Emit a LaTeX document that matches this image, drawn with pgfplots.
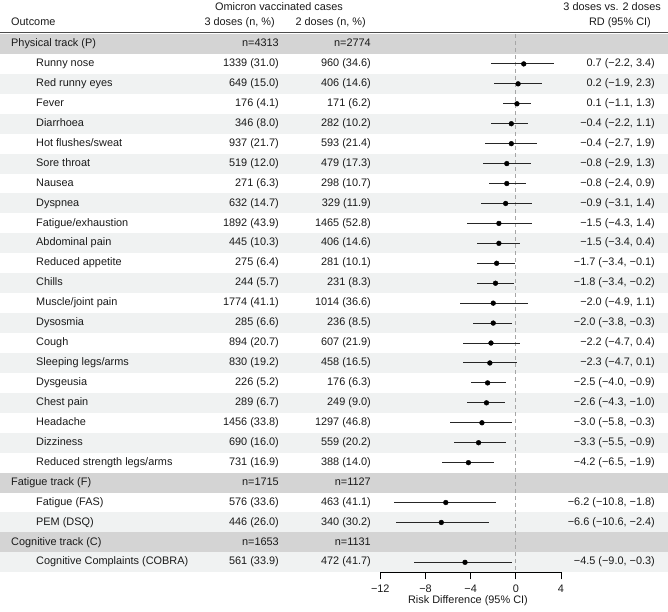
\documentclass[border=0pt]{standalone}
\usepackage{fontspec}
\setmainfont{Liberation Sans}
\usepackage{pgfplots}
\usepackage{pgfplotstable}
\pgfplotsset{compat=1.18}
\definecolor{grp}{HTML}{D4D4D4}
\definecolor{lite}{HTML}{F0F2F2}
\definecolor{txt}{HTML}{1A1A1A}

% row, rd, lo, hi
\pgfplotstableread{
row rd lo hi
1 0.7 -2.2 3.4
2 0.2 -1.9 2.3
3 0.1 -1.1 1.3
4 -0.4 -2.2 1.1
5 -0.4 -2.7 1.9
6 -0.8 -2.9 1.3
7 -0.8 -2.4 0.9
8 -0.9 -3.1 1.4
9 -1.5 -4.3 1.4
10 -1.5 -3.4 0.4
11 -1.7 -3.4 -0.1
12 -1.8 -3.4 -0.2
13 -2.0 -4.9 1.1
14 -2.0 -3.8 -0.3
15 -2.2 -4.7 0.4
16 -2.3 -4.7 0.1
17 -2.5 -4.0 -0.9
18 -2.6 -4.3 -1.0
19 -3.0 -5.8 -0.3
20 -3.3 -5.5 -0.9
21 -4.2 -6.5 -1.9
23 -6.2 -10.8 -1.8
24 -6.6 -10.6 -2.4
26 -4.5 -9.0 -0.3
}\rdtable

\newcommand\stripe[2]{\fill[#2] (0pt,{577pt-#1*19.937pt}) rectangle (668pt,{577pt-(#1+1)*19.937pt});}
\newcommand\grouprow[4]{%
  \node[anchor=mid west] at (11pt,{577pt-(#1+0.5)*19.937pt}) {#2};
  \node[anchor=mid east] at (279pt,{577pt-(#1+0.5)*19.937pt}) {#3};
  \node[anchor=mid east] at (371pt,{577pt-(#1+0.5)*19.937pt}) {#4};}
\newcommand\itemrow[5]{%
  \node[anchor=mid west] at (36pt,{577pt-(#1+0.5)*19.937pt}) {#2};
  \node[anchor=mid east] at (279pt,{577pt-(#1+0.5)*19.937pt}) {#3};
  \node[anchor=mid east] at (371pt,{577pt-(#1+0.5)*19.937pt}) {#4};
  \node[anchor=mid east] at (655pt,{577pt-(#1+0.5)*19.937pt}) {#5};}

\begin{document}
\begin{tikzpicture}[every node/.style={font=\fontsize{10.9}{13}\selectfont, text=txt, inner sep=0pt}]
\useasboundingbox (0,0) rectangle (668pt,611pt);
% stripes
\stripe{0}{grp}
\foreach \i in {2,4,...,20} {\stripe{\i}{lite}}
\stripe{22}{grp}
\stripe{24}{lite}
\stripe{25}{grp}
\stripe{26}{lite}
% header
\node[anchor=mid] at (279pt,603pt) {Omicron vaccinated cases};
\node[anchor=mid east] at (661pt,603pt) {3 doses vs. 2 doses};
\node[anchor=mid west] at (11pt,588pt) {Outcome};
\node[anchor=mid east] at (275pt,588pt) {3 doses (n, \%)};
\node[anchor=mid east] at (366pt,588pt) {2 doses (n, \%)};
\node[anchor=mid east] at (651pt,588pt) {RD (95\% CI)};
\draw[black!70, line width=1pt] (0pt,578pt) -- (668pt,578pt);

\grouprow{0}{Physical track (P)}{n=4313}{n=2774}
\itemrow{1}{Runny nose}{1339 (31.0)}{960 (34.6)}{0.7 (−2.2, 3.4)}
\itemrow{2}{Red runny eyes}{649 (15.0)}{406 (14.6)}{0.2 (−1.9, 2.3)}
\itemrow{3}{Fever}{176 (4.1)}{171 (6.2)}{0.1 (−1.1, 1.3)}
\itemrow{4}{Diarrhoea}{346 (8.0)}{282 (10.2)}{−0.4 (−2.2, 1.1)}
\itemrow{5}{Hot flushes/sweat}{937 (21.7)}{593 (21.4)}{−0.4 (−2.7, 1.9)}
\itemrow{6}{Sore throat}{519 (12.0)}{479 (17.3)}{−0.8 (−2.9, 1.3)}
\itemrow{7}{Nausea}{271 (6.3)}{298 (10.7)}{−0.8 (−2.4, 0.9)}
\itemrow{8}{Dyspnea}{632 (14.7)}{329 (11.9)}{−0.9 (−3.1, 1.4)}
\itemrow{9}{Fatigue/exhaustion}{1892 (43.9)}{1465 (52.8)}{−1.5 (−4.3, 1.4)}
\itemrow{10}{Abdominal pain}{445 (10.3)}{406 (14.6)}{−1.5 (−3.4, 0.4)}
\itemrow{11}{Reduced appetite}{275 (6.4)}{281 (10.1)}{−1.7 (−3.4, −0.1)}
\itemrow{12}{Chills}{244 (5.7)}{231 (8.3)}{−1.8 (−3.4, −0.2)}
\itemrow{13}{Muscle/joint pain}{1774 (41.1)}{1014 (36.6)}{−2.0 (−4.9, 1.1)}
\itemrow{14}{Dysosmia}{285 (6.6)}{236 (8.5)}{−2.0 (−3.8, −0.3)}
\itemrow{15}{Cough}{894 (20.7)}{607 (21.9)}{−2.2 (−4.7, 0.4)}
\itemrow{16}{Sleeping legs/arms}{830 (19.2)}{458 (16.5)}{−2.3 (−4.7, 0.1)}
\itemrow{17}{Dysgeusia}{226 (5.2)}{176 (6.3)}{−2.5 (−4.0, −0.9)}
\itemrow{18}{Chest pain}{289 (6.7)}{249 (9.0)}{−2.6 (−4.3, −1.0)}
\itemrow{19}{Headache}{1456 (33.8)}{1297 (46.8)}{−3.0 (−5.8, −0.3)}
\itemrow{20}{Dizziness}{690 (16.0)}{559 (20.2)}{−3.3 (−5.5, −0.9)}
\itemrow{21}{Reduced strength legs/arms}{731 (16.9)}{388 (14.0)}{−4.2 (−6.5, −1.9)}
\grouprow{22}{Fatigue track (F)}{n=1715}{n=1127}
\itemrow{23}{Fatigue (FAS)}{576 (33.6)}{463 (41.1)}{−6.2 (−10.8, −1.8)}
\itemrow{24}{PEM (DSQ)}{446 (26.0)}{340 (30.2)}{−6.6 (−10.6, −2.4)}
\grouprow{25}{Cognitive track (C)}{n=1653}{n=1131}
\itemrow{26}{Cognitive Complaints (COBRA)}{561 (33.9)}{472 (41.7)}{−4.5 (−9.0, −0.3)}

\begin{axis}[
  at={(380.3pt,38.7pt)}, anchor=south west,
  scale only axis, width=180.7pt, height=538.3pt,
  xmin=-12, xmax=4, ymin=-26.5, ymax=0.5,
  axis x line=bottom, axis y line=none,
  axis line style={-, black, line width=0.8pt},
  xtick={-12,-8,-4,0,4}, xticklabels={−12,−8,−4,0,4},
  tick align=outside, major tick length=7pt,
  every tick/.style={black, line width=0.8pt},
  ytick=\empty,
  clip=false,
  xticklabel style={font=\fontsize{10.9}{13}\selectfont, text=txt, yshift=-5pt},
  xlabel={Risk Difference (95\% CI)},
  xlabel style={font=\fontsize{10.9}{13}\selectfont, text=txt, anchor=mid, at={(axis description cs:0.5,0)}, yshift=-29pt, xshift=-2.7pt},
]
\addplot[gray!70, dash pattern=on 4pt off 3pt, line width=0.8pt] coordinates {(0,0.5) (0,-26.5)};
\addplot[only marks, mark=*, mark size=2.4pt, black,
  error bars/.cd, x dir=both, x explicit, error mark=none,
  error bar style={line width=1.0pt, black!85}]
  table[x=rd, y expr=-\thisrow{row},
        x error plus expr=\thisrow{hi}-\thisrow{rd},
        x error minus expr=\thisrow{rd}-\thisrow{lo}] {\rdtable};
\end{axis}
\end{tikzpicture}
\end{document}
